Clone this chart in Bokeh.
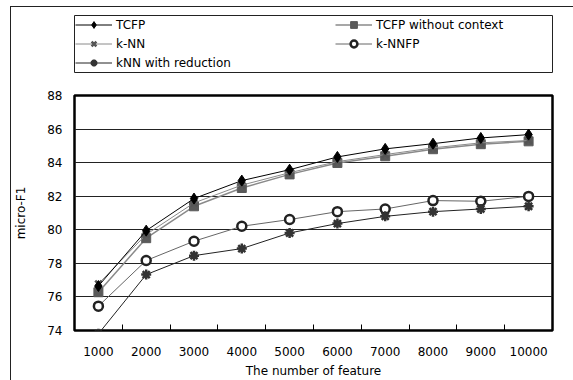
from bokeh.plotting import figure
from bokeh.layouts import column
from bokeh.models import FixedTicker, Legend, LegendItem, Range1d
from bokeh.embed import file_html
from bokeh.resources import INLINE

# ---- data ----
features = ["1000", "2000", "3000", "4000", "5000", "6000", "7000", "8000", "9000", "10000"]
xpos = [1, 2, 3, 4, 5, 6, 7, 8, 9, 10]
tcfp = [76.65, 79.95, 81.86, 82.93, 83.58, 84.34, 84.82, 85.13, 85.47, 85.67]
tcfp_wo = [76.28, 79.50, 81.40, 82.49, 83.30, 83.98, 84.38, 84.80, 85.10, 85.27]
knn = [76.78, 79.72, 81.60, 82.66, 83.40, 84.06, 84.48, 84.88, 85.18, 85.32]
knnfp = [75.45, 78.17, 79.32, 80.21, 80.61, 81.08, 81.24, 81.74, 81.70, 81.99]
knn_red = [73.80, 77.33, 78.46, 78.88, 79.81, 80.37, 80.80, 81.08, 81.24, 81.40]
y_ticks = [74, 76, 78, 80, 82, 84, 86, 88]

FONT = "DejaVu Sans"

S_TCFP = dict(line=dict(line_color="black", line_width=1),
              mark=dict(marker="diamond", size=11, fill_color="black", line_color="black"))
S_WO = dict(line=dict(line_color="#8a8a8a", line_width=1.5),
            mark=dict(marker="square", size=9, fill_color="#5a5a5a", line_color="#5a5a5a"))
S_KNN = dict(line=dict(line_color="#8a8a8a", line_width=1),
             mark=dict(marker="x", size=9, line_color="#555555", line_width=2.5))
S_FP = dict(line=dict(line_color="#666666", line_width=1),
            mark=dict(marker="circle", size=9, fill_color="white", line_color="#222222", line_width=2.5))
S_RED = dict(line=dict(line_color="#222222", line_width=1),
             mark=dict(marker="asterisk", size=10, line_color="#333333", line_width=2.5))

# ---------------- main chart ----------------
p = figure(width=562, height=292, output_backend="svg", toolbar_location=None,
           x_range=Range1d(0.5, 10.5), y_range=Range1d(74, 88))
p.title.visible = False
p.min_border_left = 63
p.min_border_right = 21
p.min_border_top = 7
p.min_border_bottom = 48
p.background_fill_color = "white"
p.border_fill_color = "white"
p.outline_line_color = "black"
p.outline_line_width = 2.5

xa = p.xaxis[0]
xa.ticker = FixedTicker(ticks=xpos, minor_ticks=[1.5, 2.5, 3.5, 4.5, 5.5, 6.5, 7.5, 8.5, 9.5])
xa.major_label_overrides = {i: f for i, f in zip(xpos, features)}
xa.axis_line_color = None
xa.major_tick_in = 0
xa.major_tick_out = 0
xa.minor_tick_in = 6
xa.minor_tick_out = 0
xa.minor_tick_line_color = "black"
xa.minor_tick_line_width = 1
xa.major_label_standoff = 16
xa.axis_label = "The number of feature"
xa.axis_label_standoff = 5

ya = p.yaxis[0]
ya.ticker = FixedTicker(ticks=y_ticks)
ya.axis_line_color = None
ya.major_tick_in = 0
ya.major_tick_out = 0
ya.minor_tick_line_color = None
ya.major_label_standoff = 12
ya.axis_label = "micro-F1"
ya.axis_label_standoff = 16

for ax in (xa, ya):
    ax.major_label_text_font = FONT
    ax.major_label_text_font_size = "12px"
    ax.major_label_text_color = "black"
    ax.axis_label_text_font = FONT
    ax.axis_label_text_font_size = "12px"
    ax.axis_label_text_font_style = "normal"
    ax.axis_label_text_color = "black"

p.xgrid.grid_line_color = None
p.ygrid.ticker = FixedTicker(ticks=y_ticks)
p.ygrid.grid_line_color = "#222222"
p.ygrid.grid_line_width = 1

for vals, st in [(tcfp_wo, S_WO), (knn, S_KNN), (knnfp, S_FP), (knn_red, S_RED), (tcfp, S_TCFP)]:
    p.line(xpos, vals, **st["line"])
    p.scatter(xpos, vals, **st["mark"])

# ---------------- legend strip (its frame is the legend box) ----------------
lg = figure(width=562, height=81, output_backend="svg", toolbar_location=None,
            x_range=Range1d(0, 1), y_range=Range1d(0, 1),
            x_axis_location=None, y_axis_location=None)
lg.title.visible = False
lg.min_border_left = 63
lg.min_border_right = 21
lg.min_border_top = 8
lg.min_border_bottom = 16
lg.outline_line_color = "#222222"
lg.outline_line_width = 1
lg.xgrid.visible = False
lg.ygrid.visible = False
lg.background_fill_color = "white"
lg.border_fill_color = "white"


def swatch(vals, st):
    # same series, drawn outside this strip's ranges; only its legend swatch shows
    return [lg.line(xpos, vals, **st["line"]), lg.scatter(xpos, vals, **st["mark"])]


common = dict(padding=0, margin=0, spacing=2, glyph_width=37, glyph_height=17,
              label_height=17, label_width=20, label_standoff=4,
              border_line_alpha=0, background_fill_alpha=0,
              label_text_font=FONT, label_text_font_size="12px", label_text_color="black")

leg1 = Legend(items=[
    LegendItem(label="TCFP", renderers=swatch(tcfp, S_TCFP)),
    LegendItem(label="k-NN", renderers=swatch(knn, S_KNN)),
    LegendItem(label="kNN with reduction", renderers=swatch(knn_red, S_RED)),
], location=(1, 1), **common)
leg2 = Legend(items=[
    LegendItem(label="TCFP without context", renderers=swatch(tcfp_wo, S_WO)),
    LegendItem(label="k-NNFP", renderers=swatch(knnfp, S_FP)),
], location=(261, 20), **common)
lg.add_layout(leg1)
lg.add_layout(leg2)

layout = column(lg, p)
layout.margin = (7, 0, 0, 11)
layout.styles = {"outline": "1.5px solid #222222"}

open("out.html", "w").write(file_html(layout, INLINE))
